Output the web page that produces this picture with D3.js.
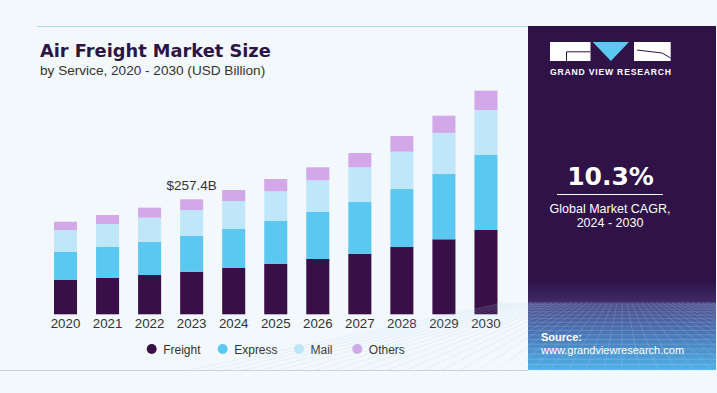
<!DOCTYPE html>
<html>
<head>
<meta charset="utf-8">
<script src="https://cdn.jsdelivr.net/npm/d3@7"></script>
<style>
  html, body { margin: 0; padding: 0; background: #f3f8fc; }
  svg { display: block; }
</style>
</head>
<body>
<div id="chart"></div>
<script>
// Values (USD Billion)
const years = ["2020", "2021", "2022", "2023", "2024", "2025", "2026", "2027", "2028", "2029", "2030"];
const seriesNames = ["Freight", "Express", "Mail", "Others"];
const freight = [76.8, 81.3, 88.0, 95.3, 103.6, 113.2, 123.8, 135.6, 150.6, 167.9, 188.7];
const express = [62.7, 69.4, 73.9, 79.9, 87.3, 95.6, 105.2, 115.7, 129.8, 146.2, 167.9];
const mail    = [49.2, 51.5, 54.4, 58.2, 62.7, 66.5, 70.9, 77.7, 83.5, 91.8, 100.7];
const others  = [18.6, 20.1, 22.4, 24.0, 24.6, 27.5, 29.1, 32.0, 35.1, 38.7, 43.2];
const colors  = ["#380f47", "#5bc8f1", "#bfe7f9", "#d2a8e9"];
const annotYear = "2023";
const annotText = "$257.4B";
const cagr = "10.3%";
const cagrLabel = ["Global Market CAGR,", "2024 - 2030"];

const width = 717, height = 393;
const svg = d3.select("#chart").append("svg")
    .attr("width", width)
    .attr("height", height);

// page background
svg.append("rect").attr("width", width).attr("height", height).attr("fill", "#f3f8fc");

// card bottom edge and top rule
svg.append("line")
    .attr("x1", 0).attr("x2", 528).attr("y1", 370.5).attr("y2", 370.5)
    .attr("stroke", "#cdd2d7").attr("stroke-width", 1.2);
svg.append("line")
    .attr("x1", 37).attr("x2", 528).attr("y1", 26.5).attr("y2", 26.5)
    .attr("stroke", "#a9dbe6").attr("stroke-width", 1);

// title
svg.append("text")
    .attr("x", 40).attr("y", 56.5)
    .attr("font-family", "DejaVu Sans")
    .attr("font-weight", "bold")
    .attr("font-size", 17.8)
    .attr("fill", "#2c1544")
    .text("Air Freight Market Size");
svg.append("text")
    .attr("x", 40).attr("y", 75)
    .attr("font-family", "Liberation Sans, Arial, sans-serif")
    .attr("font-size", 13.6)
    .attr("fill", "#333")
    .text("by Service, 2020 - 2030 (USD Billion)");

// build stacked table
const table = years.map((yr, i) => ({
    year: yr, Freight: freight[i], Express: express[i], Mail: mail[i], Others: others[i]
}));
const stacked = d3.stack().keys(seriesNames)(table);

const x = d3.scaleBand()
    .domain(years)
    .range([44.5, 507])
    .paddingInner(0.452)
    .paddingOuter(0.226);

const y = d3.scaleLinear()
    .domain([0, 560])
    .range([314.3, 64.1]);

const color = d3.scaleOrdinal().domain(seriesNames).range(colors);

svg.append("g")
    .selectAll("g")
    .data(stacked)
    .join("g")
    .attr("fill", d => color(d.key))
    .selectAll("rect")
    .data(d => d)
    .join("rect")
    .attr("x", d => x(d.data.year))
    .attr("y", d => y(d[1]))
    .attr("width", x.bandwidth())
    .attr("height", d => y(d[0]) - y(d[1]));

// x axis labels
const xAxis = svg.append("g")
    .attr("transform", "translate(0,316)")
    .call(d3.axisBottom(x).tickSize(0).tickPadding(3));
xAxis.select(".domain").remove();
xAxis.selectAll("text")
    .attr("font-family", "Liberation Sans, Arial, sans-serif")
    .attr("font-size", 13.3)
    .attr("fill", "#333");

// annotation on 2023
const annotRow = table.find(d => d.year === annotYear);
const annotTotal = seriesNames.reduce((s, k) => s + annotRow[k], 0);
svg.append("text")
    .attr("x", x(annotYear) + x.bandwidth() / 2)
    .attr("y", y(annotTotal) - 9.5)
    .attr("text-anchor", "middle")
    .attr("font-family", "Liberation Sans, Arial, sans-serif")
    .attr("font-size", 13.5)
    .attr("fill", "#333")
    .text(annotText);

// legend
const legendX = [151.7, 222.7, 299, 357.3];
const legend = svg.append("g")
    .selectAll("g")
    .data(seriesNames)
    .join("g")
    .attr("transform", (d, i) => `translate(${legendX[i]},349)`);
legend.append("circle")
    .attr("r", 5)
    .attr("fill", d => color(d));
legend.append("text")
    .attr("x", 11.5)
    .attr("y", 4.5)
    .attr("font-family", "Liberation Sans, Arial, sans-serif")
    .attr("font-size", 12)
    .attr("fill", "#333")
    .text(d => d);

// right panel
const panel = svg.append("g");
const defs = svg.append("defs");
const grad = defs.append("linearGradient")
    .attr("id", "panelGrad").attr("x1", 0).attr("y1", 0).attr("x2", 0).attr("y2", 1);
grad.append("stop").attr("offset", "0%").attr("stop-color", "#2f1246");
grad.append("stop").attr("offset", "74%").attr("stop-color", "#2f1246");
grad.append("stop").attr("offset", "80%").attr("stop-color", "#3e2a66");
grad.append("stop").attr("offset", "81%").attr("stop-color", "#4f4c8a");
grad.append("stop").attr("offset", "90%").attr("stop-color", "#4b79b8");
grad.append("stop").attr("offset", "100%").attr("stop-color", "#4fb2e8");
panel.append("rect")
    .attr("x", 528).attr("y", 26).attr("width", 188).attr("height", 344)
    .attr("fill", "url(#panelGrad)");

// perspective grid (decoration)
const gridG = panel.append("g")
    .attr("stroke", "#a9d4f2").attr("stroke-width", 0.6).attr("fill", "none");
const horizon = 303, floor = 370, vx = 622;
d3.range(0, 18).forEach(i => {
    const t = i / 17;
    const yy = horizon + (floor - horizon) * Math.pow(t, 1.4);
    gridG.append("line")
        .attr("x1", 528).attr("x2", 716).attr("y1", yy).attr("y2", yy)
        .attr("stroke-opacity", 0.25 + 0.3 * t);
});
d3.range(-24, 25).forEach(i => {
    gridG.append("line")
        .attr("x1", vx + i * 5).attr("y1", horizon)
        .attr("x2", vx + i * 18).attr("y2", floor)
        .attr("stroke-opacity", 0.35);
});

// logo
const logo = panel.append("g");
logo.append("rect").attr("x", 550).attr("y", 42).attr("width", 40.5).attr("height", 19).attr("fill", "#fff");
logo.append("path").attr("d", "M566.5,61 V51.8 H590.5").attr("stroke", "#2f1246").attr("stroke-width", 1).attr("fill", "none");
logo.append("path").attr("d", "M592.7,42 H629 L610.9,61 Z").attr("fill", "#5bc8f1");
logo.append("rect").attr("x", 634).attr("y", 42).attr("width", 36.7).attr("height", 19).attr("fill", "#fff");
logo.append("path").attr("d", "M637,50 L662,53 L670.7,58").attr("stroke", "#2f1246").attr("stroke-width", 1).attr("fill", "none");
panel.append("text")
    .attr("x", 550).attr("y", 74.5)
    .attr("textLength", 121).attr("lengthAdjust", "spacing")
    .attr("font-family", "Liberation Sans, Arial, sans-serif")
    .attr("font-weight", "bold")
    .attr("font-size", 8.6)
    .attr("fill", "#fff")
    .text("GRAND VIEW RESEARCH");

// CAGR block
panel.append("text")
    .attr("x", 610.5).attr("y", 185)
    .attr("text-anchor", "middle")
    .attr("font-family", "DejaVu Sans")
    .attr("font-weight", "bold")
    .attr("font-size", 25)
    .attr("fill", "#fff")
    .text(cagr);
panel.append("line")
    .attr("x1", 557).attr("x2", 663).attr("y1", 194.5).attr("y2", 194.5)
    .attr("stroke", "#fff").attr("stroke-width", 1);
panel.selectAll("text.cagr")
    .data(cagrLabel)
    .join("text")
    .attr("class", "cagr")
    .attr("x", 610).attr("y", (d, i) => 213 + i * 13.5)
    .attr("text-anchor", "middle")
    .attr("font-family", "Liberation Sans, Arial, sans-serif")
    .attr("font-size", 12.5)
    .attr("fill", "#fff")
    .text(d => d);

// source
panel.append("text")
    .attr("x", 541).attr("y", 340.5)
    .attr("font-family", "Liberation Sans, Arial, sans-serif")
    .attr("font-weight", "bold")
    .attr("font-size", 11)
    .attr("fill", "#fff")
    .text("Source:");
panel.append("text")
    .attr("x", 541).attr("y", 354)
    .attr("font-family", "Liberation Sans, Arial, sans-serif")
    .attr("font-size", 11)
    .attr("fill", "#fff")
    .text("www.grandviewresearch.com");
</script>
</body>
</html>
